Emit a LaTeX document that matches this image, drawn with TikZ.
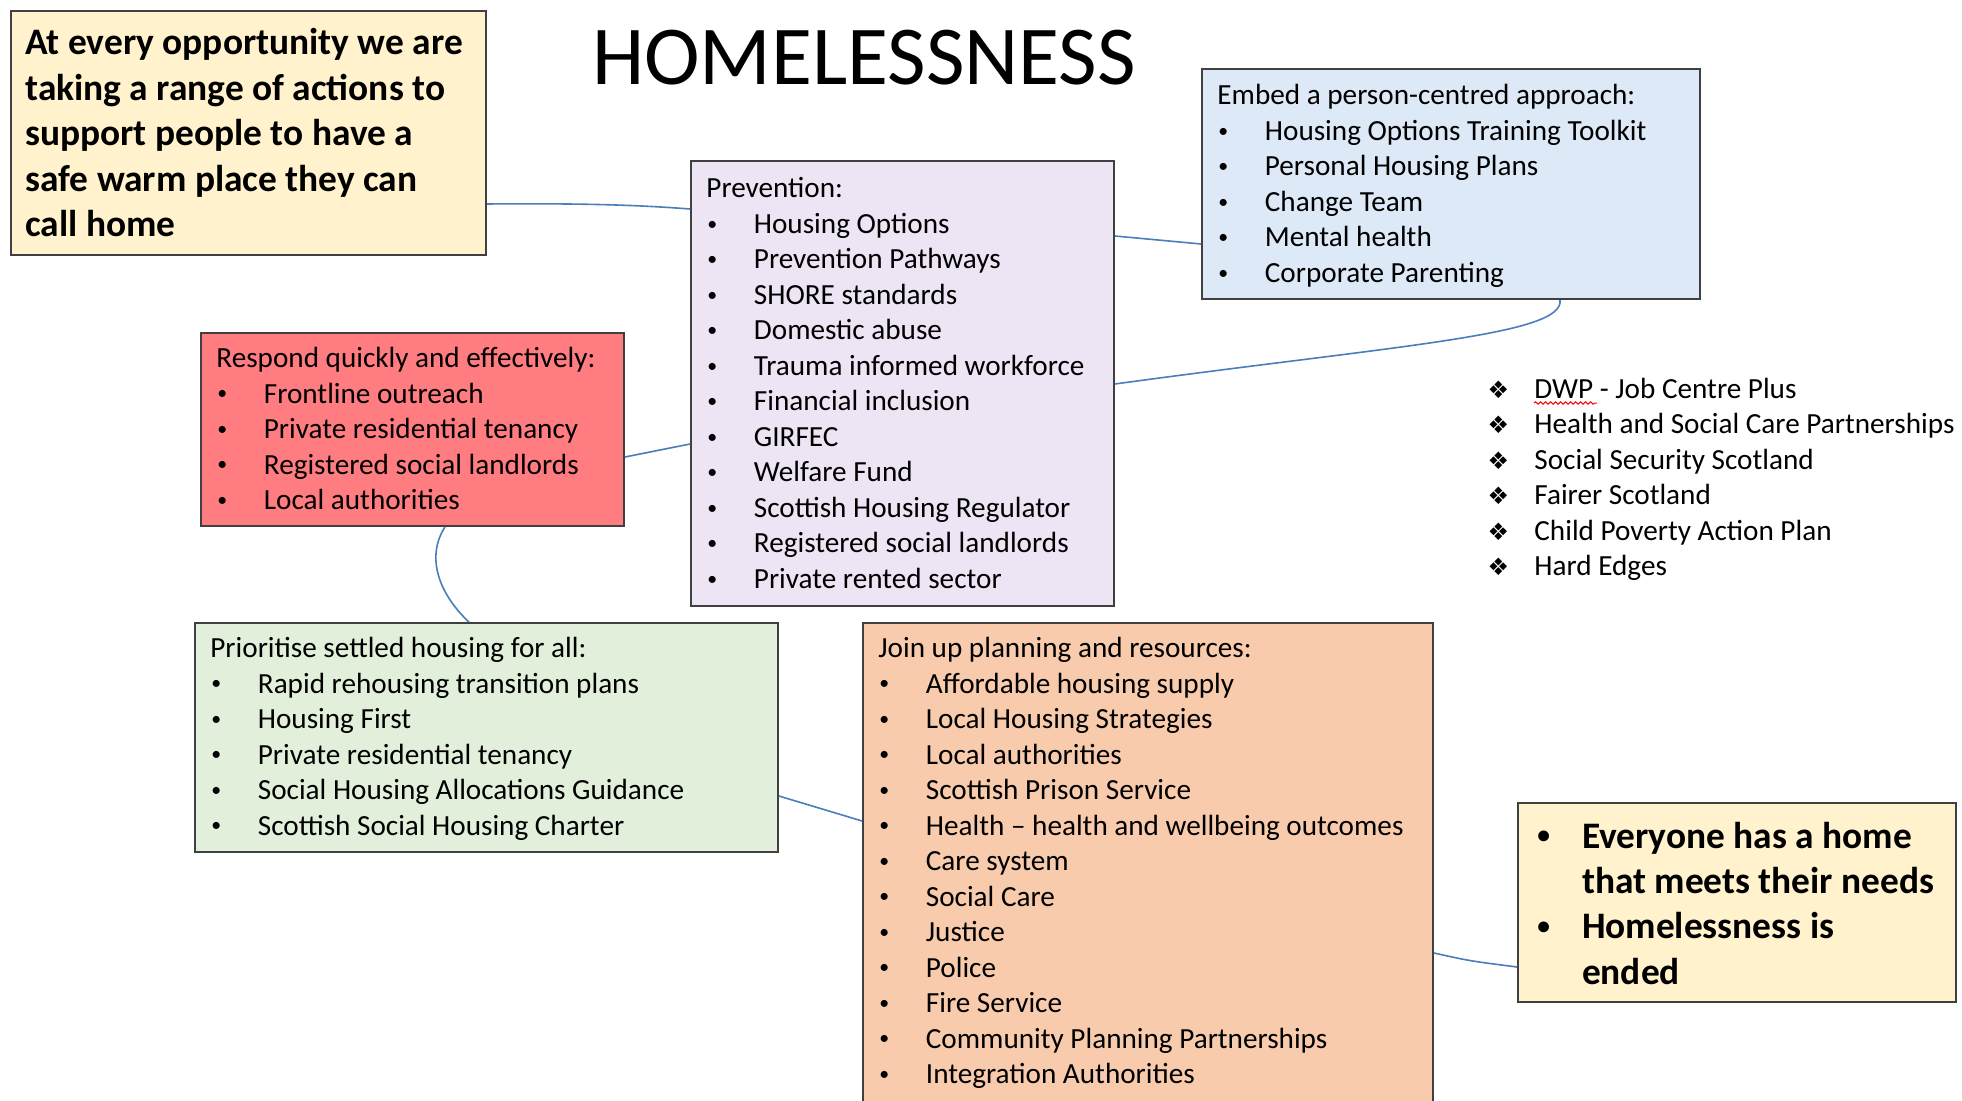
\documentclass[tikz,border=0pt]{standalone}
\usepackage{fontspec}
\usepackage{graphicx}
\setmainfont{Carlito}
\newfontfamily\dejavu{DejaVu Sans}
\usetikzlibrary{fit,decorations.pathmorphing}
\definecolor{cYel}{RGB}{255,242,204}
\definecolor{cLav}{RGB}{237,228,244}
\definecolor{cBlu}{RGB}{221,233,246}
\definecolor{cRed}{RGB}{255,124,128}
\definecolor{cGrn}{RGB}{226,239,218}
\definecolor{cOrg}{RGB}{248,203,173}
\definecolor{cLine}{RGB}{74,126,187}
\definecolor{cBord}{RGB}{64,64,64}
\newcommand\smbul{\raisebox{0.11em}{\scalebox{0.68}{\textbullet}}}
\newcommand\bi[1]{\\\makebox[23.75pt][l]{\hspace*{0.5pt}\smbul}#1}
\newcommand\listfont{\fontsize{14.6}{17.75}\selectfont}
\newcommand\bigfont{\fontsize{18.7}{22.7}\selectfont\bfseries}
\newcommand\dia{\leavevmode\llap{\makebox[0pt][c]{\dejavu\fontsize{12}{12}\selectfont ❖}\hspace{18pt}}}
\tikzset{
  box/.style={draw=cBord, line width=0.9pt, inner sep=0pt},
  txt/.style={anchor=base west, inner sep=0pt, font=\listfont},
  bigtxt/.style={anchor=base west, inner sep=0pt, font=\bigfont},
  conn/.style={draw=cLine, line width=0.8pt},
}
\begin{document}
\begin{tikzpicture}[x=0.5pt,y=-0.5pt]
\useasboundingbox (0,0) rectangle (1962,1101);
\clip (0,0) rectangle (1962,1101);
\fill[white] (0,0) rectangle (1962,1101);

% boxes
\node[box, fill=cYel, fit={(11,11) (486,255)}] (A) {};
\node[box, fill=cLav, fit={(691,161) (1114,606)}] (B) {};
\node[box, fill=cBlu, fit={(1202,69) (1700,299)}] (C) {};
\node[box, fill=cRed, fit={(201,333) (624,526)}] (D) {};
\node[box, fill=cGrn, fit={(195,623) (778,852)}] (E) {};
\node[box, fill=cOrg, fit={(863,623) (1433,1130)}] (F) {};
\node[box, fill=cYel, fit={(1518,803) (1956,1002)}] (G) {};

% title
\node[anchor=base, inner sep=0pt, font=\fontsize{41.9}{50}\selectfont] (title) at (864,85) {HOMELESSNESS};

% texts
\node[bigtxt] (At) at (25,55) {\parbox[t]{300pt}{At every opportunity we are\\taking a range of actions to\\support people to have a\\safe warm place they can\\call home}};

\node[txt] (Bt) at (706,198) {\parbox[t]{300pt}{Prevention:%
\bi{Housing Options}\bi{Prevention Pathways}\bi{SHORE standards}\bi{Domestic abuse}%
\bi{Trauma informed workforce}\bi{Financial inclusion}\bi{GIRFEC}\bi{Welfare Fund}%
\bi{Scottish Housing Regulator}\bi{Registered social landlords}\bi{Private rented sector}}};

\node[txt] (Ct) at (1217,105) {\parbox[t]{300pt}{Embed a person-centred approach:%
\bi{Housing Options Training Toolkit}\bi{Personal Housing Plans}\bi{Change Team}%
\bi{Mental health}\bi{Corporate Parenting}}};

\node[txt] (Dt) at (216,367.5) {\parbox[t]{300pt}{Respond quickly and effectively:%
\bi{Frontline outreach}\bi{Private residential tenancy}\bi{Registered social landlords}%
\bi{Local authorities}}};

\node[txt] (Et) at (210,657.5) {\parbox[t]{300pt}{Prioritise settled housing for all:%
\bi{Rapid rehousing transition plans}\bi{Housing First}\bi{Private residential tenancy}%
\bi{Social Housing Allocations Guidance}\bi{Scottish Social Housing Charter}}};

\node[txt] (Ft) at (878,657.5) {\parbox[t]{300pt}{Join up planning and resources:%
\bi{Affordable housing supply}\bi{Local Housing Strategies}\bi{Local authorities}%
\bi{Scottish Prison Service}\bi{Health -- health and wellbeing outcomes}\bi{Care system}%
\bi{Social Care}\bi{Justice}\bi{Police}\bi{Fire Service}%
\bi{Community Planning Partnerships}\bi{Integration Authorities}}};

\node[bigtxt] (Gt) at (1535,848) {\parbox[t]{300pt}{\makebox[23.3pt][l]{\hspace*{1pt}\smbul}Everyone has a home\\\hspace*{23.3pt}that meets their needs\\\makebox[23.3pt][l]{\hspace*{1pt}\smbul}Homelessness is\\\hspace*{23.3pt}ended}};

\node[txt] (Ht) at (1534,398) {\parbox[t]{300pt}{\dia DWP - Job Centre Plus\\\dia Health and Social Care Partnerships\\\dia Social Security Scotland\\\dia Fairer Scotland\\\dia Child Poverty Action Plan\\\dia Hard Edges}};
\draw[red, line width=0.5pt, decorate, decoration={snake, amplitude=0.6pt, segment length=2.5pt}] (1534,403) -- (1597,403);

% connectors
\draw[conn] (A.east |- 0,204) .. controls (600,203) and (650,206) .. (B.west |- 0,209);
\draw[conn] (B.east |- 0,236) -- (C.west |- 0,244);
\draw[conn] (B.east |- 0,384) .. controls (1400,345) and (1565,335) .. (C.south -| 1560,0);
\draw[conn] (D.east |- 0,457) -- (B.west |- 0,444);
\draw[conn] (D.south -| 445,0) .. controls (425,558) and (440,595) .. (E.north -| 469,0);
\draw[conn] (E.east |- 0,796) -- (F.west |- 0,821);
\draw[conn] (F.east |- 0,953) .. controls (1470,961) .. (G.west |- 0,967);
\end{tikzpicture}
\end{document}
